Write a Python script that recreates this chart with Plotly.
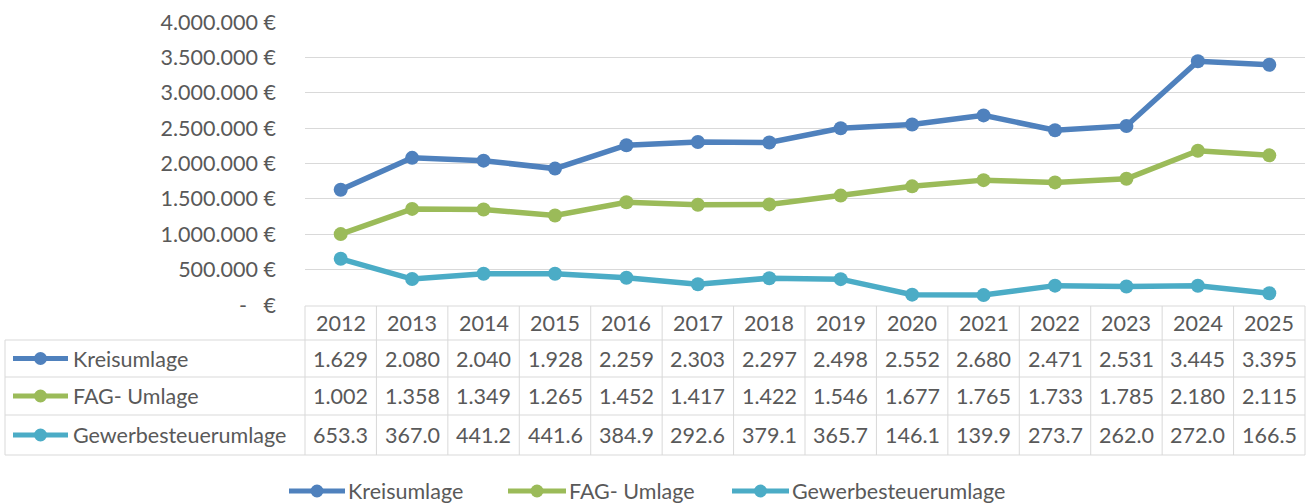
import plotly.graph_objects as go

# Umlagen 2012-2025, values in thousand euros (as shown in the data table)

years = list(range(2012, 2026))
kreisumlage = [1629, 2080, 2040, 1928, 2259, 2303, 2297, 2498, 2552, 2680, 2471, 2531, 3445, 3395]
fag_umlage = [1002, 1358, 1349, 1265, 1452, 1417, 1422, 1546, 1677, 1765, 1733, 1785, 2180, 2115]
gewerbesteuerumlage = [653.3, 367.0, 441.2, 441.6, 384.9, 292.6, 379.1, 365.7, 146.1, 139.9, 273.7, 262.0, 272.0, 166.5]

series_names = ["Kreisumlage", "FAG- Umlage", "Gewerbesteuerumlage"]
series_values = [kreisumlage, fag_umlage, gewerbesteuerumlage]
colors = ["#4F81BD", "#9BBB59", "#4BACC6"]

y_ticks = [0, 500000, 1000000, 1500000, 2000000, 2500000, 3000000, 3500000, 4000000]
y_tick_text = ["-\u00a0\u00a0\u00a0€"] + [f"{v:,.0f}".replace(",", ".") + " €" for v in y_ticks[1:]]

W, H = 1310, 504
FONT = "Lato"
FSIZE = 21.5
TEXT = "#595959"
GRID = "#D9D9D9"


def px(x):
    return x / W


def py(y):
    return 1 - y / H


def cell_text(name, v):
    if name == "Gewerbesteuerumlage":
        return f"{v:.1f}"
    return f"{v / 1000:.3f}"


def key_shapes(x0, x1, cy, col):
    # line-with-marker legend key, like Excel draws it
    cx = (x0 + x1) / 2
    return [
        dict(type="line", xref="paper", yref="paper", x0=px(x0), x1=px(x1),
             y0=py(cy), y1=py(cy), line=dict(color=col, width=5)),
        dict(type="circle", xref="paper", yref="paper", x0=px(cx - 6.5), x1=px(cx + 6.5),
             y0=py(cy - 6.5), y1=py(cy + 6.5), fillcolor=col, line=dict(width=0)),
    ]


fig = go.Figure()
for name, vals, col in zip(series_names, series_values, colors):
    fig.add_trace(go.Scatter(
        x=years, y=[v * 1000 for v in vals], name=name, mode="lines+markers",
        line=dict(color=col, width=5.5), marker=dict(color=col, size=14),
    ))

# data table below the plot
plot_l, plot_r = 305, 1305
row_lines = [306, 340, 377, 415, 455]
col_w = (plot_r - plot_l) / len(years)
shapes = []
line_style = dict(color=GRID, width=1)
shapes.append(dict(type="line", xref="paper", yref="paper", x0=px(plot_l), x1=px(plot_r),
                   y0=py(row_lines[0]), y1=py(row_lines[0]), line=line_style))
for y in row_lines[1:]:
    shapes.append(dict(type="line", xref="paper", yref="paper", x0=px(5), x1=px(plot_r),
                       y0=py(y), y1=py(y), line=line_style))
shapes.append(dict(type="line", xref="paper", yref="paper", x0=px(5), x1=px(5),
                   y0=py(row_lines[1]), y1=py(row_lines[-1]), line=line_style))
for k in range(len(years) + 1):
    x = plot_l + k * col_w
    shapes.append(dict(type="line", xref="paper", yref="paper", x0=px(x), x1=px(x),
                       y0=py(row_lines[0]), y1=py(row_lines[-1]), line=line_style))

annotations = []
font = dict(family=FONT, size=FSIZE, color=TEXT)
hdr_y = (row_lines[0] + row_lines[1]) / 2
for yr in years:
    annotations.append(dict(x=yr, y=py(hdr_y), xref="x", yref="paper", text=str(yr),
                            showarrow=False, font=font, xanchor="center", yanchor="middle"))
for r, (name, vals, col) in enumerate(zip(series_names, series_values, colors)):
    cy = (row_lines[r + 1] + row_lines[r + 2]) / 2
    shapes += key_shapes(13, 68, cy, col)
    annotations.append(dict(x=px(71), y=py(cy), xref="paper", yref="paper", text=name,
                            showarrow=False, font=font, xanchor="left", yanchor="middle"))
    for yr, v in zip(years, vals):
        annotations.append(dict(x=yr, y=py(cy), xref="x", yref="paper", text=cell_text(name, v),
                                showarrow=False, font=font, xanchor="center", yanchor="middle"))

# legend at the bottom
legend_keys = [(289, 345), (508, 566), (732, 789)]
for (x0, x1), name, col in zip(legend_keys, series_names, colors):
    shapes += key_shapes(x0, x1, 491, col)
    annotations.append(dict(x=px(x1 + 1), y=py(491), xref="paper", yref="paper", text=name,
                            showarrow=False, font=font, xanchor="left", yanchor="middle"))

fig.update_layout(
    width=W, height=H, margin=dict(l=0, r=0, t=0, b=0),
    paper_bgcolor="white", plot_bgcolor="white",
    font=dict(family=FONT, size=FSIZE, color=TEXT),
    shapes=shapes, annotations=annotations,
    showlegend=False,
    xaxis=dict(domain=[px(plot_l), px(plot_r)], range=[2011.5, 2025.5], showgrid=False,
               showticklabels=False, zeroline=False, showline=False),
    yaxis=dict(domain=[py(305), py(22)], range=[0, 4000000], tickvals=y_ticks, ticktext=y_tick_text,
               showgrid=True, gridcolor=GRID, gridwidth=1, zeroline=False, showline=False,
               ticks="", ticklabelstandoff=28, automargin=False,
               tickfont=dict(family=FONT, size=FSIZE, color=TEXT)),
)

fig.write_html("out.html", config={"displayModeBar": False},
               post_script="document.body.style.margin='0px';")
